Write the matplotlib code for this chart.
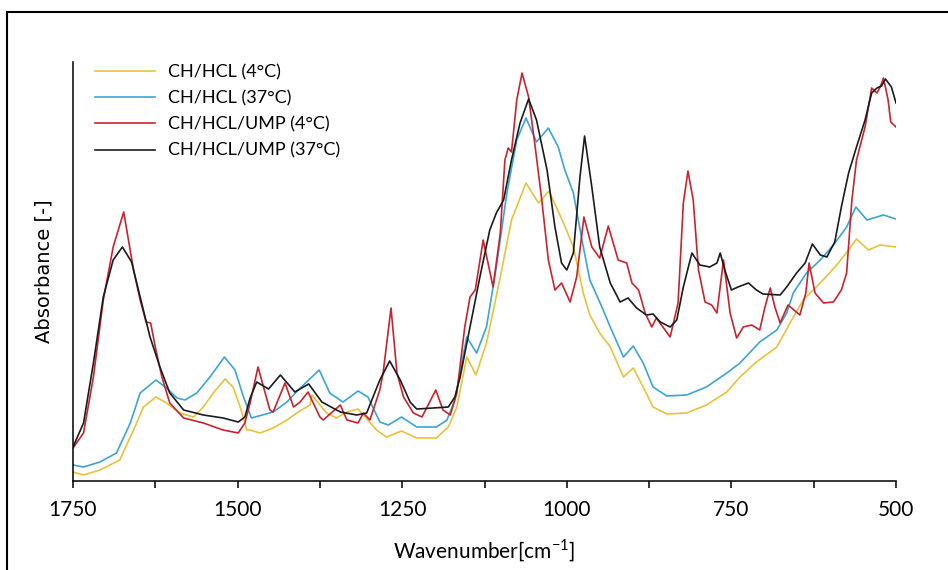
import matplotlib as mpl
mpl.use("Agg")
import matplotlib.pyplot as plt
from matplotlib.patches import Rectangle
from matplotlib.ticker import MultipleLocator

# ---------------------------------------------------------------------------
# style
# ---------------------------------------------------------------------------
mpl.rcParams.update({
    "font.family": ["Lato", "DejaVu Sans"],
    "mathtext.fontset": "custom",
    "mathtext.rm": "Lato",
    "axes.linewidth": 1.1,
})

# ---------------------------------------------------------------------------
# data  (wavenumber in cm-1, absorbance in arbitrary units)
# ---------------------------------------------------------------------------
LABELS = ["CH/HCL (4°C)", "CH/HCL (37°C)", "CH/HCL/UMP (4°C)", "CH/HCL/UMP (37°C)"]
COLORS = ["#E9C23C", "#3BA5D6", "#C8242E", "#1B1B1B"]

wn_yellow = [1750, 1734, 1709, 1679, 1658, 1643, 1624, 1608, 1588, 1567, 1552, 1537,
             1519, 1507, 1496, 1486, 1481, 1466, 1446, 1425, 1408, 1390, 1387, 1365,
             1350, 1334, 1317, 1289, 1274, 1251, 1228, 1198, 1180, 1167, 1152, 1138,
             1122, 1101, 1084, 1062, 1043, 1027, 1005, 990, 975, 965, 950, 934, 914,
             899, 884, 869, 848, 818, 788, 757, 737, 712, 681, 661, 641, 615, 590,
             572, 560, 542, 524, 500]
abs_yellow = [0.009, 0.006, 0.011, 0.021, 0.051, 0.074, 0.084, 0.078, 0.068, 0.064,
              0.074, 0.088, 0.102, 0.094, 0.074, 0.051, 0.051, 0.048, 0.053, 0.061,
              0.069, 0.076, 0.086, 0.068, 0.063, 0.069, 0.072, 0.051, 0.044, 0.050,
              0.043, 0.043, 0.054, 0.074, 0.124, 0.106, 0.138, 0.204, 0.261, 0.298,
              0.278, 0.290, 0.258, 0.234, 0.188, 0.166, 0.148, 0.134, 0.104, 0.113,
              0.094, 0.074, 0.067, 0.068, 0.076, 0.089, 0.104, 0.119, 0.134, 0.158,
              0.181, 0.198, 0.216, 0.231, 0.242, 0.231, 0.236, 0.234]

wn_blue = [1750, 1734, 1709, 1684, 1663, 1648, 1624, 1608, 1592, 1580, 1562, 1542,
           1520, 1504, 1491, 1479, 1446, 1425, 1408, 1376, 1360, 1340, 1317, 1302,
           1284, 1271, 1251, 1228, 1198, 1182, 1170, 1152, 1137, 1122, 1107, 1091,
           1076, 1062, 1046, 1028, 1013, 1003, 990, 977, 965, 950, 934, 914, 899,
           884, 869, 848, 818, 788, 757, 737, 707, 681, 666, 656, 636, 615, 595,
           575, 561, 544, 529, 519, 500]
abs_blue = [0.016, 0.014, 0.019, 0.028, 0.058, 0.088, 0.101, 0.093, 0.083, 0.081,
            0.088, 0.104, 0.124, 0.111, 0.084, 0.063, 0.069, 0.079, 0.091, 0.111,
            0.088, 0.079, 0.090, 0.084, 0.059, 0.056, 0.064, 0.054, 0.054, 0.061,
            0.081, 0.144, 0.128, 0.154, 0.214, 0.288, 0.341, 0.363, 0.339, 0.353,
            0.334, 0.311, 0.288, 0.241, 0.201, 0.179, 0.154, 0.124, 0.135, 0.118,
            0.094, 0.085, 0.086, 0.094, 0.108, 0.118, 0.139, 0.151, 0.168, 0.188,
            0.208, 0.221, 0.236, 0.254, 0.274, 0.261, 0.264, 0.266, 0.262]

wn_red = [1750, 1734, 1719, 1704, 1689, 1673, 1658, 1648, 1639, 1632, 1625, 1615,
          1603, 1582, 1552, 1522, 1499, 1489, 1481, 1469, 1451, 1446, 1428, 1415,
          1405, 1393, 1375, 1370, 1344, 1334, 1317, 1309, 1299, 1284, 1279, 1267,
          1258, 1248, 1233, 1220, 1199, 1188, 1177, 1167, 1155, 1147, 1139, 1127,
          1112, 1101, 1094, 1089, 1084, 1076, 1068, 1058, 1048, 1038, 1028, 1018,
          1008, 995, 985, 974, 962, 950, 937, 922, 909, 901, 891, 881, 871, 864,
          853, 843, 831, 823, 816, 808, 800, 790, 780, 772, 762, 752, 742, 732,
          719, 707, 699, 691, 684, 676, 664, 646, 637, 632, 623, 610, 595, 583,
          575, 567, 560, 547, 537, 529, 524, 519, 512, 508, 500]
abs_red = [0.033, 0.048, 0.104, 0.181, 0.234, 0.269, 0.211, 0.181, 0.159, 0.158,
           0.134, 0.104, 0.078, 0.063, 0.058, 0.051, 0.048, 0.058, 0.078, 0.114,
           0.071, 0.069, 0.098, 0.074, 0.079, 0.089, 0.064, 0.061, 0.076, 0.061,
           0.058, 0.068, 0.061, 0.091, 0.108, 0.173, 0.108, 0.084, 0.068, 0.064,
           0.091, 0.071, 0.066, 0.088, 0.154, 0.184, 0.191, 0.241, 0.194, 0.248,
           0.321, 0.333, 0.329, 0.381, 0.408, 0.384, 0.334, 0.281, 0.221, 0.191,
           0.198, 0.179, 0.204, 0.264, 0.234, 0.223, 0.255, 0.221, 0.218, 0.198,
           0.191, 0.168, 0.154, 0.163, 0.153, 0.144, 0.178, 0.278, 0.310, 0.281,
           0.211, 0.179, 0.176, 0.168, 0.221, 0.168, 0.143, 0.154, 0.156, 0.151,
           0.174, 0.193, 0.174, 0.158, 0.176, 0.166, 0.188, 0.218, 0.188, 0.178,
           0.179, 0.191, 0.208, 0.281, 0.321, 0.354, 0.393, 0.388, 0.394, 0.403,
           0.381, 0.359, 0.354]

wn_black = [1750, 1734, 1719, 1704, 1689, 1675, 1661, 1648, 1633, 1618, 1603, 1582,
            1552, 1522, 1499, 1489, 1481, 1471, 1453, 1435, 1413, 1392, 1372, 1344,
            1319, 1304, 1284, 1269, 1253, 1238, 1228, 1203, 1180, 1170, 1162, 1147,
            1132, 1117, 1107, 1096, 1084, 1071, 1058, 1046, 1030, 1018, 1008, 1000,
            990, 980, 973, 962, 950, 934, 919, 907, 894, 879, 869, 858, 843, 833,
            823, 810, 798, 783, 772, 767, 760, 750, 740, 724, 712, 702, 676, 666,
            651, 638, 627, 615, 605, 593, 583, 572, 560, 547, 537, 529, 522, 516,
            507, 500]
abs_black = [0.034, 0.058, 0.118, 0.184, 0.221, 0.234, 0.219, 0.184, 0.144, 0.114,
             0.088, 0.071, 0.066, 0.063, 0.059, 0.064, 0.083, 0.099, 0.092, 0.106,
             0.089, 0.097, 0.079, 0.069, 0.066, 0.068, 0.101, 0.120, 0.101, 0.079,
             0.072, 0.073, 0.074, 0.084, 0.104, 0.154, 0.204, 0.251, 0.268, 0.281,
             0.321, 0.358, 0.382, 0.361, 0.311, 0.254, 0.218, 0.211, 0.228, 0.304,
             0.345, 0.294, 0.234, 0.198, 0.179, 0.183, 0.173, 0.166, 0.167, 0.159,
             0.154, 0.161, 0.194, 0.228, 0.216, 0.214, 0.218, 0.228, 0.211, 0.191,
             0.194, 0.198, 0.191, 0.187, 0.186, 0.194, 0.208, 0.218, 0.237, 0.226,
             0.224, 0.239, 0.274, 0.308, 0.334, 0.361, 0.388, 0.393, 0.395, 0.402,
             0.394, 0.378]

series = [(wn_yellow, abs_yellow), (wn_blue, abs_blue),
          (wn_red, abs_red), (wn_black, abs_black)]

# ---------------------------------------------------------------------------
# figure
# ---------------------------------------------------------------------------
W, H = 948, 570
fig = plt.figure(figsize=(W / 100, H / 100), dpi=100)
ax = fig.add_axes([73 / W, 1 - 481 / H, (896 - 73) / W, (481 - 62) / H])

for (x, y), c, lab in zip(series, COLORS, LABELS):
    ax.plot(x, y, color=c, lw=1.2, label=lab, solid_joinstyle="round")

ax.set_xlim(1750, 500)
ax.set_ylim(0, 0.419)

ax.spines["top"].set_visible(False)
ax.spines["right"].set_visible(False)
ax.set_yticks([])
ax.xaxis.set_major_locator(MultipleLocator(250))
ax.xaxis.set_minor_locator(MultipleLocator(125))
ax.tick_params(axis="x", which="both", direction="out", length=5, width=1.1,
               labelsize=15, pad=9)

ax.set_xlabel(r"Wavenumber[cm$^{\mathregular{-1}}$]", fontsize=15, labelpad=12)
ax.set_ylabel("Absorbance [-]", fontsize=14, family="DejaVu Sans", labelpad=14)

ax.legend(loc="upper left", bbox_to_anchor=(95 / W, 1 - 64 / H),
          bbox_transform=fig.transFigure, frameon=False, fontsize=13,
          handlelength=3.3, handletextpad=0.75, labelspacing=0.56,
          borderpad=0, borderaxespad=0)

# outer frame of the original figure (right and bottom edges fall outside)
top = 1 - 12 / H
fig.patches.append(Rectangle((7 / W, -0.2), 1.2, top + 0.2,
                             transform=fig.transFigure, fill=False,
                             edgecolor="black", lw=1.5))

fig.savefig("out.png", dpi=100)
plt.close(fig)
